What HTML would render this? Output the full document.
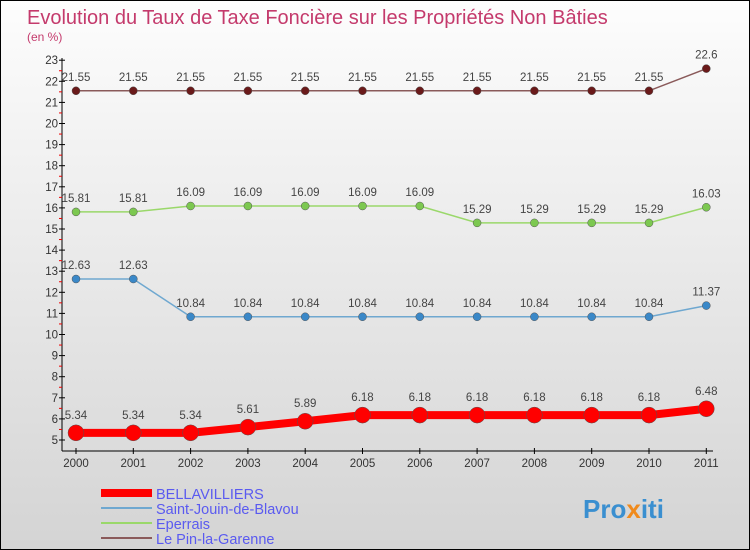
<!DOCTYPE html>
<html><head><meta charset="utf-8"><style>
body{margin:0}
#c{width:748px;height:548px;border:1px solid #000;background:linear-gradient(#fdfdfd,#d4d4d4);position:relative;font-family:"Liberation Sans",sans-serif;overflow:hidden}
</style></head><body>
<div id="c">
<svg id="s" width="748" height="548" xmlns="http://www.w3.org/2000/svg">
<text x="26" y="23" font-size="20" fill="#c43a6c">Evolution du Taux de Taxe Foncière sur les Propriétés Non Bâties</text>
<text x="26" y="40" font-size="12" fill="#c43a6c">(en %)</text>
<g id="axes"></g><g id="series"></g><g id="legend"></g>
<text x="582" y="517" font-size="26" font-weight="bold" fill="#3a8fd0">Pro<tspan fill="#f08a1c">x</tspan>iti</text>
</svg></div>
<script>
const years=["2000","2001","2002","2003","2004","2005","2006","2007","2008","2009","2010","2011"];
const yTicks=[5,6,7,8,9,10,11,12,13,14,15,16,17,18,19,20,21,22,23];
const bellavilliers=[5.34,5.34,5.34,5.61,5.89,6.18,6.18,6.18,6.18,6.18,6.18,6.48];
const saintJouin=[12.63,12.63,10.84,10.84,10.84,10.84,10.84,10.84,10.84,10.84,10.84,11.37];
const eperrais=[15.81,15.81,16.09,16.09,16.09,16.09,16.09,15.29,15.29,15.29,15.29,16.03];
const lePin=[21.55,21.55,21.55,21.55,21.55,21.55,21.55,21.55,21.55,21.55,21.55,22.6];
const names=["BELLAVILLIERS","Saint-Jouin-de-Blavou","Eperrais","Le Pin-la-Garenne"];
const ns="http://www.w3.org/2000/svg";
const X=i=>75+i*57.3, Y=v=>439-(v-5)*21.1;
function mk(t,a,p){const e=document.createElementNS(ns,t);for(const k in a)e.setAttribute(k,a[k]);p.appendChild(e);return e;}
const ax=document.getElementById('axes');
let e=mk('line',{x1:61,y1:57,x2:61,y2:450,stroke:'#000'},ax);

e=mk('line',{x1:61,y1:450,x2:712,y2:450,stroke:'#000'},ax);

yTicks.forEach(v=>{mk('line',{x1:58,y1:Y(v),x2:64,y2:Y(v),stroke:'#000'},ax);
 if(v<23)mk('line',{x1:58,y1:Y(v+0.5),x2:61,y2:Y(v+0.5),stroke:'#e00'},ax);
 const t=mk('text',{x:57,y:Y(v)+4,'font-size':11.5,'text-anchor':'end',fill:'#333'},ax);t.textContent=v;
 });
years.forEach((y,i)=>{mk('line',{x1:X(i),y1:447,x2:X(i),y2:453,stroke:'#000'},ax);
 const t=mk('text',{x:X(i),y:466,'font-size':11.5,'text-anchor':'middle',fill:'#333'},ax);t.textContent=y;
 });
const sg=document.getElementById('series');
const defs=[[lePin,'#8a5a5a','#6a1a1a',1.5,4,'line-le-pin'],[eperrais,'#9ad86a','#7cc850',1.5,4,'line-eperrais'],[saintJouin,'#6fa8d0','#3a88c8',1.5,4,'line-saint-jouin'],[bellavilliers,'#f00','#f00',8,8,'line-bellavilliers']];
defs.forEach(([d,lc,pc,w,r,n])=>{
 const l=mk('polyline',{points:d.map((v,i)=>X(i)+','+Y(v)).join(' '),fill:'none',stroke:lc,'stroke-width':w},sg);
 
 d.forEach((v,i)=>{const c=mk('circle',{cx:X(i),cy:Y(v),r:r,fill:pc,stroke:'#555','stroke-width':0.5},sg);
  
  const t=mk('text',{x:X(i),y:Y(v)-(r+6),'font-size':11.5,'text-anchor':'middle',fill:'#444'},sg);
  t.textContent=String(v);
  });
});
const lg=document.getElementById('legend');
const lcol=['#f00','#6fa8d0','#9ad86a','#8a5a5a'],lw=[8,2,2,2];
names.forEach((n,i)=>{const y=492+i*15;
 mk('line',{x1:100,y1:y,x2:151,y2:y,stroke:lcol[i],'stroke-width':lw[i]},lg);
 const t=mk('text',{x:155,y:y+6,'font-size':14.5,fill:'#5a5af0'},lg);t.textContent=n;
 });
</script></body></html>
